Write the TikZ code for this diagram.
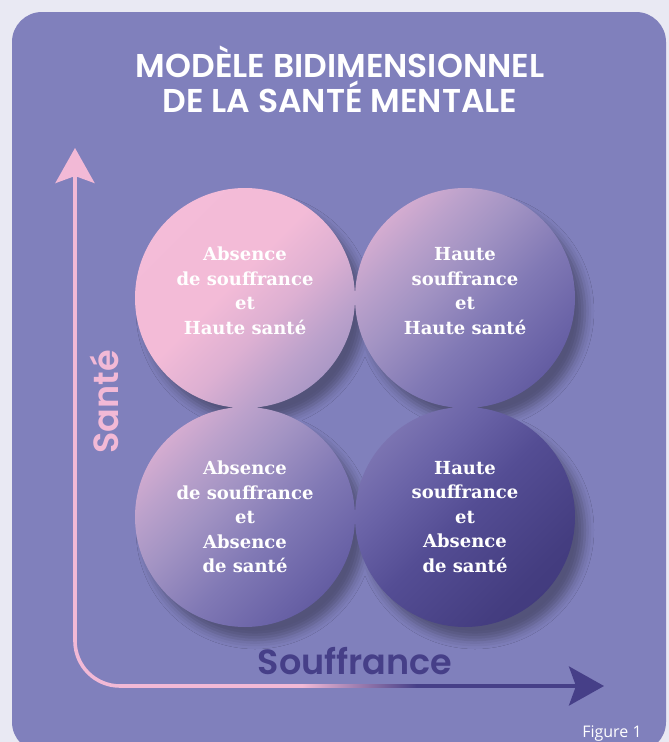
\documentclass[tikz,border=0pt]{standalone}
\usepackage{fontspec}
\setmainfont{DejaVu Serif}
\newfontfamily\titrefont{Poppins SemiBold}
\newfontfamily\axefont{Poppins SemiBold}
\newfontfamily\notefont{Open Sans}
\usetikzlibrary{arrows.meta,positioning,shadows.blur}
\definecolor{fond}{HTML}{E9E9F3}
\definecolor{panneau}{HTML}{8080BC}
\definecolor{rose}{HTML}{F2B9D6}
\definecolor{violet}{HTML}{463F88}
\definecolor{g0}{HTML}{F4BCD8}
\definecolor{g1}{HTML}{F3BBD7}
\definecolor{g2}{HTML}{DDB0D2}
\definecolor{g3}{HTML}{BBA1CB}
\definecolor{g4}{HTML}{A293C3}
\definecolor{g5}{HTML}{8179B5}
\definecolor{g6}{HTML}{6A63A7}
\definecolor{g7}{HTML}{544D94}
\definecolor{g8}{HTML}{443D80}
\definecolor{g9}{HTML}{3E377A}
\pgfdeclarehorizontalshading{bulles}{100bp}{color(0bp)=(g0); color(14bp)=(g0); color(30bp)=(g1); color(36bp)=(g2); color(41.5bp)=(g3); color(46.5bp)=(g4); color(53.5bp)=(g5); color(60.5bp)=(g6); color(67.5bp)=(g7); color(78bp)=(g8); color(86bp)=(g9); color(100bp)=(g9)}
\pgfdeclarehorizontalshading{axeh}{100bp}{color(0bp)=(rose); color(43bp)=(rose); color(56bp)=(violet); color(100bp)=(violet)}
\tikzset{
	texte/.style={text=white, align=center, font=\bfseries\fontsize{18}{24.5}\selectfont},
	titre/.style={text=white, font=\titrefont\fontsize{33}{36}\selectfont, anchor=base},
	legende/.style={font=\axefont\fontsize{35}{40}\selectfont, anchor=base},
	axe/.style={line width=3.6pt},
	pointe/.tip={Stealth[length=35pt,width=39pt,inset=7pt]}
}
\begin{document}
\begin{tikzpicture}[x=1pt, y=-1pt]
	\useasboundingbox (0,0) rectangle (669,742);
	\fill[fond] (0,0) rectangle (669,742);
	\fill[panneau, rounded corners=30pt] (12,12) rectangle (666,752);
	\node[titre] (titre1) at (340,77) {MODÈLE BIDIMENSIONNEL};
	\node[titre] (titre2) at (340,112) {DE LA SANTÉ MENTALE};
	\coordinate (hg) at (245,298);
	\coordinate (hd) at (465,298);
	\coordinate (bg) at (245,517);
	\coordinate (bd) at (465,517);
	\shade[shading=bulles, shading angle=-45, blur shadow={shadow xshift=10pt, shadow yshift=-13pt, shadow blur radius=9pt, shadow opacity=35}]
		(hg) circle[radius=110pt] (hd) circle[radius=110pt] (bg) circle[radius=110pt] (bd) circle[radius=110pt];
	\node[texte] (thg) at ([yshift=7pt]hg) {Absence\\de souffrance\\et\\Haute santé};
	\node[texte] (thd) at ([yshift=7pt]hd) {Haute\\souffrance\\et\\Haute santé};
	\node[texte] (tbg) at (bg) {Absence\\de souffrance\\et\\Absence\\de santé};
	\node[texte] (tbd) at (bd) {Haute\\souffrance\\et\\Absence\\de santé};
	\coordinate (haut) at (75,148);
	\coordinate (coin) at (75,686);
	\coordinate (bout) at (604,686);
	\draw[axe, rose, pointe-, rounded corners=45pt] (haut) -- (coin) -- ++(70,0);
	\shade[shading=axeh] ([xshift=68pt, yshift=1.8pt]coin) rectangle ([xshift=-20pt, yshift=-1.8pt]bout);
	\draw[axe, violet, -pointe] ([xshift=-30pt]bout) -- (bout);
	\node[legende, text=rose, rotate=90] (sante) at (118,402) {Santé};
	\node[legende, text=violet] (souffrance) at (355,674) {Souffrance};
	\node[font=\notefont\fontsize{16}{18}\selectfont, text=white, anchor=base] (figure) at (612,737) {Figure 1};
\end{tikzpicture}
\end{document}
